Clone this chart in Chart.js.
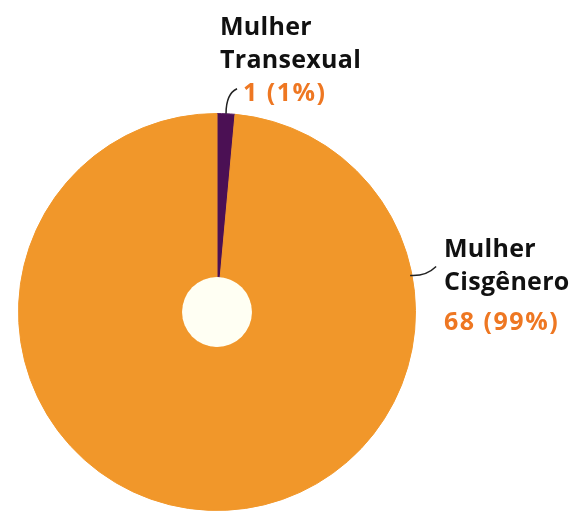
<!DOCTYPE html>
<html>
<head>
<meta charset="utf-8">
<script src="https://cdn.jsdelivr.net/npm/chart.js@4"></script>
<style>
    html, body { margin: 0; padding: 0; background: #ffffff; }
    #wrap { width: 574px; height: 511px; position: relative; }
</style>
</head>
<body>
<div id="wrap"><canvas id="graph"></canvas></div>
<script>
// Data
const categories = ['Mulher Transexual', 'Mulher Cisgênero'];
const categoryLines = [['Mulher', 'Transexual'], ['Mulher', 'Cisgênero']];
const counts = [1, 68];
const sliceColors = ['#4b1054', '#f1972a'];

const total = counts.reduce((a, b) => a + b, 0);
const valueLabels = counts.map(v => `${v} (${Math.round(v / total * 100)}%)`);

// Draws the cream hole plus the two callouts
const calloutPlugin = {
    id: 'callouts',
    afterDatasetsDraw(chart) {
        const ctx = chart.ctx;
        const arcs = chart.getDatasetMeta(0).data;
        const cx = arcs[0].x;
        const cy = arcs[0].y;
        const r = arcs[0].outerRadius;

        // hole
        ctx.save();
        ctx.fillStyle = '#fffff3';
        ctx.beginPath();
        ctx.arc(cx, cy, arcs[0].innerRadius, 0, Math.PI * 2);
        ctx.fill();

        ctx.strokeStyle = '#222222';
        ctx.lineWidth = 1.5;
        ctx.textBaseline = 'alphabetic';
        ctx.textAlign = 'left';

        // small slice: leader goes up from the top of the arc
        const a0 = (arcs[0].startAngle + arcs[0].endAngle) / 2;
        const sx = cx + Math.cos(a0) * r;
        const sy = cy + Math.sin(a0) * r;
        ctx.beginPath();
        ctx.moveTo(sx, sy);
        ctx.quadraticCurveTo(sx, sy - 20, sx + 11, sy - 25);
        ctx.stroke();

        ctx.font = 'bold 25px "Open Sans"';
        ctx.letterSpacing = '0.3px';
        ctx.fillStyle = '#111111';
        ctx.fillText(categoryLines[0][0], cx + 3, cy - r - 79);
        ctx.fillText(categoryLines[0][1], cx + 3, cy - r - 46);
        ctx.letterSpacing = '1.5px';
        ctx.fillStyle = '#ee7722';
        ctx.fillText(valueLabels[0], cx + 26, cy - r - 13);

        // big slice: leader from the right edge
        const a1 = -0.185;
        const ex = cx + Math.cos(a1) * r;
        const ey = cy + Math.sin(a1) * r;
        ctx.beginPath();
        ctx.moveTo(ex - 2, ey);
        ctx.quadraticCurveTo(ex + 14, ey + 1, ex + 24, ey - 9);
        ctx.stroke();

        ctx.letterSpacing = '0.3px';
        ctx.fillStyle = '#111111';
        ctx.fillText(categoryLines[1][0], cx + 227, cy - 55);
        ctx.fillText(categoryLines[1][1], cx + 227, cy - 22);
        ctx.letterSpacing = '1.5px';
        ctx.fillStyle = '#ee7722';
        ctx.fillText(valueLabels[1], cx + 227, cy + 18);
        ctx.restore();
    }
};

const ctx = document.getElementById('graph').getContext('2d');
new Chart(ctx, {
    type: 'doughnut',
    data: {
        labels: categories,
        datasets: [{
            data: counts,
            backgroundColor: sliceColors,
            borderColor: ['#5e2466', '#f1972a'],
            borderWidth: 1
        }]
    },
    options: {
        responsive: true,
        maintainAspectRatio: false,
        animation: false,
        cutout: '17.6%',
        layout: {
            padding: { top: 113, bottom: 0, left: 18, right: 158 }
        },
        plugins: {
            legend: { display: false },
            tooltip: { enabled: false }
        }
    },
    plugins: [calloutPlugin]
});
</script>
</body>
</html>
